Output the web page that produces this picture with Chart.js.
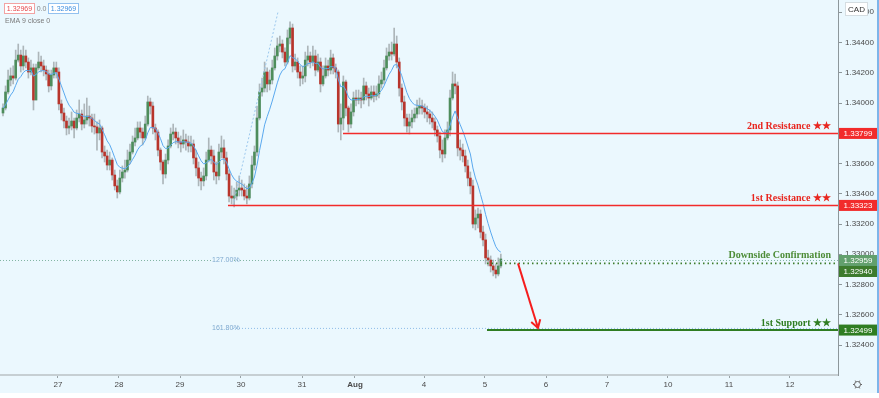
<!DOCTYPE html>
<html>
<head>
<meta charset="utf-8">
<script src="https://cdn.jsdelivr.net/npm/chart.js@4.4.0/dist/chart.umd.min.js"></script>
<style>
  html, body { margin: 0; padding: 0; background: #fff; }
  #wrap { position: relative; width: 879px; height: 393px; }
</style>
</head>
<body>
<div id="wrap"><canvas id="chart"></canvas></div>
<script>
// ===== Data (USD/CAD, 1h candles) =====
var firstOpen = 1.33934;
var closes = [
  1.33967,1.34073,1.34152,1.34179,1.34165,1.34284,1.34317,1.34245,1.34311,1.34271,
  1.34205,1.34232,1.34020,1.34232,1.34271,1.34245,1.34218,1.34192,1.34113,1.34185,
  1.34232,1.34205,1.33994,1.33934,1.33881,1.33835,1.33848,1.33881,1.33835,1.33901,
  1.33927,1.33861,1.33888,1.33914,1.33901,1.33848,1.33842,1.33802,1.33835,1.33676,
  1.33650,1.33590,1.33623,1.33524,1.33452,1.33412,1.33504,1.33544,1.33557,1.33623,
  1.33676,1.33742,1.33769,1.33835,1.33808,1.33769,1.33861,1.34007,1.33980,1.33835,
  1.33808,1.33689,1.33610,1.33531,1.33623,1.33716,1.33795,1.33808,1.33769,1.33742,
  1.33729,1.33756,1.33742,1.33716,1.33729,1.33637,1.33571,1.33504,1.33485,1.33518,
  1.33623,1.33689,1.33650,1.33544,1.33518,1.33676,1.33703,1.33637,1.33531,1.33385,
  1.33372,1.33385,1.33425,1.33438,1.33425,1.33385,1.33372,1.33465,1.33590,1.33676,
  1.33901,1.34073,1.34099,1.34205,1.34126,1.34152,1.34232,1.34311,1.34377,1.34390,
  1.34337,1.34271,1.34430,1.34496,1.34245,1.34271,1.34205,1.34165,1.34179,1.34284,
  1.34311,1.34271,1.34311,1.34218,1.34271,1.34126,1.34179,1.34245,1.34218,1.34298,
  1.34232,1.34205,1.33861,1.33901,1.34139,1.33967,1.33861,1.33941,1.34033,1.34020,
  1.34033,1.34020,1.34113,1.34060,1.34033,1.34073,1.34046,1.34060,1.34126,1.34152,
  1.34232,1.34311,1.34337,1.34324,1.34390,1.34271,1.34099,1.34007,1.33901,1.33848,
  1.33875,1.33901,1.33927,1.33967,1.33980,1.33967,1.33941,1.33927,1.33901,1.33875,
  1.33822,1.33782,1.33689,1.33663,1.33769,1.33822,1.34033,1.34126,1.34113,1.33703,
  1.33689,1.33650,1.33584,1.33504,1.33452,1.33200,1.33240,1.33266,1.33147,1.33095,
  1.32976,1.32962,1.32923,1.32896,1.32870,1.32923,1.32969
];
var highs = [
  1.33994,1.34113,1.34218,1.34232,1.34245,1.34350,1.34390,1.34350,1.34377,1.34350,
  1.34298,1.34284,1.34258,1.34258,1.34337,1.34311,1.34284,1.34245,1.34218,1.34218,
  1.34271,1.34271,1.34232,1.34020,1.33967,1.33914,1.33901,1.33941,1.33901,1.33954,
  1.34020,1.33954,1.33994,1.34033,1.33980,1.33927,1.33927,1.33875,1.33888,1.33848,
  1.33716,1.33689,1.33676,1.33637,1.33557,1.33491,1.33557,1.33584,1.33623,1.33689,
  1.33729,1.33782,1.33835,1.33875,1.33875,1.33835,1.33914,1.34046,1.34033,1.34007,
  1.33861,1.33822,1.33703,1.33623,1.33663,1.33756,1.33835,1.33861,1.33835,1.33808,
  1.33782,1.33822,1.33795,1.33782,1.33782,1.33756,1.33689,1.33610,1.33544,1.33571,
  1.33676,1.33769,1.33716,1.33689,1.33610,1.33729,1.33782,1.33756,1.33676,1.33557,
  1.33452,1.33438,1.33478,1.33518,1.33491,1.33465,1.33452,1.33518,1.33650,1.33716,
  1.33980,1.34126,1.34165,1.34271,1.34232,1.34218,1.34284,1.34364,1.34430,1.34443,
  1.34417,1.34364,1.34483,1.34536,1.34522,1.34324,1.34298,1.34245,1.34245,1.34337,
  1.34377,1.34337,1.34377,1.34350,1.34324,1.34298,1.34245,1.34298,1.34284,1.34350,
  1.34324,1.34258,1.34218,1.33994,1.34179,1.34152,1.33980,1.33994,1.34073,1.34086,
  1.34086,1.34073,1.34165,1.34139,1.34099,1.34113,1.34113,1.34113,1.34179,1.34205,
  1.34284,1.34364,1.34390,1.34403,1.34496,1.34443,1.34298,1.34126,1.34046,1.33927,
  1.33927,1.33954,1.33967,1.34020,1.34033,1.34020,1.33994,1.33980,1.33954,1.33941,
  1.33901,1.33848,1.33808,1.33756,1.33822,1.33875,1.34086,1.34205,1.34192,1.34139,
  1.33756,1.33729,1.33689,1.33623,1.33544,1.33491,1.33293,1.33306,1.33293,1.33187,
  1.33134,1.33028,1.32989,1.32962,1.32936,1.32976,1.33002
];
var lows = [
  1.33914,1.33954,1.34060,1.34113,1.34126,1.34152,1.34271,1.34205,1.34218,1.34232,
  1.34165,1.34185,1.33954,1.34020,1.34218,1.34205,1.34179,1.34152,1.34073,1.34086,
  1.34165,1.34165,1.33954,1.33888,1.33835,1.33789,1.33795,1.33822,1.33769,1.33822,
  1.33875,1.33822,1.33835,1.33861,1.33848,1.33808,1.33795,1.33689,1.33756,1.33637,
  1.33610,1.33557,1.33557,1.33491,1.33425,1.33372,1.33399,1.33478,1.33504,1.33544,
  1.33597,1.33663,1.33716,1.33756,1.33769,1.33723,1.33756,1.33848,1.33927,1.33795,
  1.33756,1.33650,1.33557,1.33465,1.33504,1.33597,1.33703,1.33756,1.33729,1.33703,
  1.33676,1.33703,1.33689,1.33676,1.33676,1.33597,1.33518,1.33452,1.33425,1.33452,
  1.33491,1.33610,1.33597,1.33491,1.33465,1.33491,1.33637,1.33597,1.33491,1.33346,
  1.33333,1.33313,1.33359,1.33385,1.33385,1.33359,1.33333,1.33359,1.33438,1.33557,
  1.33650,1.33888,1.34046,1.34073,1.34073,1.34086,1.34126,1.34218,1.34284,1.34337,
  1.34298,1.34245,1.34258,1.34390,1.34205,1.34218,1.34165,1.34113,1.34126,1.34139,
  1.34245,1.34232,1.34245,1.34179,1.34205,1.34073,1.34113,1.34165,1.34179,1.34192,
  1.34192,1.34165,1.33808,1.33756,1.33822,1.33914,1.33808,1.33835,1.33914,1.33980,
  1.33994,1.33967,1.33994,1.34020,1.33980,1.34020,1.34007,1.34020,1.34033,1.34099,
  1.34126,1.34218,1.34284,1.34284,1.34311,1.34232,1.34046,1.33954,1.33848,1.33808,
  1.33795,1.33835,1.33875,1.33901,1.33927,1.33927,1.33901,1.33875,1.33861,1.33835,
  1.33782,1.33742,1.33637,1.33610,1.33637,1.33756,1.33782,1.34020,1.34060,1.33650,
  1.33623,1.33610,1.33544,1.33452,1.33399,1.33174,1.33161,1.33174,1.33108,1.33055,
  1.32936,1.32923,1.32883,1.32857,1.32843,1.32857,1.32910
];
var emaLength = 9;

// axis ticks (x in bar-index units)
var xTickLabels = ['27','28','29','30','31','Aug','4','5','6','7','10','11','12'];
var xTickPos    = [21.65,45.67,69.69,93.70,117.72,138.58,165.75,189.76,213.78,237.80,261.81,285.83,309.84];
var yTicks      = [1.324,1.326,1.328,1.330,1.332,1.334,1.336,1.338,1.340,1.342,1.344,1.346];
var xMin = -1.18, xMax = 328.74;
var yMin = 1.32202, yMax = 1.34681;

// drawn levels
var levelNames  = ['2nd Resistance \u2605\u2605', '1st Resistance \u2605\u2605', 'Downside Confirmation', '1st Support \u2605\u2605'];
var levelValues = [1.33799, 1.33323, 1.32940, 1.32499];
var levelStart  = [133.86, 88.58, 190.55, 190.55];
var fibNames    = ['127.00%', '161.80%'];
var fibValues   = [1.32959, 1.32510];
var fibStart    = [-1.18, 90.55];
var fibTrend    = [{x: 90.55, y: 1.33323}, {x: 108.27, y: 1.34602}];
var arrowPts    = [{x: 202.76, y: 1.32940}, {x: 210.63, y: 1.32513}];
var axisBoxes   = [1.33799, 1.33323, 1.32959, 1.32940, 1.32499];
var lastClose   = '1.32969';

// ===== Colours =====
var BG = '#ebf8fe';
var UP = '#4e8d5c', DOWN = '#b8352c', WICK = '#adb6ba';
var RED = '#f22b2b', GREEN_D = '#2f7d22';
var boxColors = [RED, RED, '#62a06d', '#3d7b2d', GREEN_D];
var levelColors = ['#e8261f', '#e8261f', '#4d8c37', '#2f7d22'];

// ===== Build =====
var opens = closes.map(function(c, i) { return i === 0 ? firstOpen : closes[i - 1]; });
var bodies = closes.map(function(c, i) { return {x: i, y: [opens[i], c]}; });
var wicks  = highs.map(function(h, i) { return {x: i, y: [lows[i], h]}; });
var bodyColors = closes.map(function(c, i) { return c >= opens[i] ? UP : DOWN; });
var k = 2 / (emaLength + 1), ema = [];
closes.forEach(function(c, i) {
  ema.push({x: i, y: i === 0 ? c : c * k + ema[i - 1].y * (1 - k)});
});

function hLine(v, start, color, width, dash) {
  return {
    type: 'line', data: [{x: start, y: v}, {x: xMax, y: v}],
    borderColor: color, borderWidth: width, borderDash: dash || [],
    pointRadius: 0, order: 1
  };
}

var datasets = [
  hLine(levelValues[0], levelStart[0], RED, 1.5),
  hLine(levelValues[1], levelStart[1], RED, 1.5),
  hLine(fibValues[0], fibStart[0], '#82b5a3', 1, [1, 2]),
  hLine(fibValues[1], fibStart[1], '#8dbbe8', 1, [1, 2]),
  hLine(levelValues[2], levelStart[2], '#3e7d2c', 1.6, [1.5, 3]),
  hLine(levelValues[3], levelStart[3], GREEN_D, 2),
  { type: 'line', data: fibTrend, borderColor: '#9cc8ee', borderWidth: 1, borderDash: [2, 2], pointRadius: 0, order: 1 },
  { type: 'line', data: arrowPts, borderColor: '#f51d1d', borderWidth: 2, pointRadius: 0, order: 0 },
  { type: 'line', data: ema, borderColor: '#5aa9ef', borderWidth: 1, pointRadius: 0, tension: 0, order: 2 },
  { type: 'bar', data: bodies, backgroundColor: bodyColors, barThickness: 2, grouped: false, minBarLength: 1, order: 3 },
  { type: 'bar', data: wicks, backgroundColor: WICK, barThickness: 1, grouped: false, order: 4 }
];

var tickFont = { family: "'Liberation Sans', Arial, sans-serif", size: 8 };

var overlay = {
  id: 'overlay',
  beforeDraw: function(chart) {
    var c = chart.ctx;
    c.save();
    c.fillStyle = BG;
    c.fillRect(0, 0, chart.width, chart.height);
    c.restore();
  },
  afterDatasetsDraw: function(chart) {
    var c = chart.ctx, xs = chart.scales.x, ys = chart.scales.y;
    c.save();
    // arrow head
    var x0 = xs.getPixelForValue(arrowPts[0].x), y0 = ys.getPixelForValue(arrowPts[0].y);
    var x1 = xs.getPixelForValue(arrowPts[1].x), y1 = ys.getPixelForValue(arrowPts[1].y);
    var a = Math.atan2(y1 - y0, x1 - x0), L = 9;
    c.strokeStyle = '#f51d1d'; c.lineWidth = 2;
    c.beginPath();
    c.moveTo(x1 - L * Math.cos(a - 0.55), y1 - L * Math.sin(a - 0.55));
    c.lineTo(x1, y1);
    c.lineTo(x1 - L * Math.cos(a + 0.55), y1 - L * Math.sin(a + 0.55));
    c.stroke();
    // level names
    c.font = "bold 10px 'Liberation Serif', 'DejaVu Serif', serif";
    c.textAlign = 'right'; c.textBaseline = 'alphabetic';
    levelValues.forEach(function(v, i) {
      c.fillStyle = levelColors[i];
      c.fillText(levelNames[i], 831, ys.getPixelForValue(v) - (i === 2 ? 5 : 4));
    });
    // fib labels
    c.font = "7px 'Liberation Sans', Arial, sans-serif";
    c.textAlign = 'left'; c.textBaseline = 'middle';
    fibValues.forEach(function(v, i) {
      var y = ys.getPixelForValue(v);
      c.fillStyle = BG; c.fillRect(211, y - 3, 22, 6);
      c.fillStyle = '#7fa9cf';
      c.fillText(fibNames[i], 212, y);
    });
    c.restore();
  },
  afterDraw: function(chart) {
    var c = chart.ctx, ys = chart.scales.y, area = chart.chartArea;
    c.save();
    // price boxes on the right axis
    c.font = "8px 'Liberation Sans', Arial, sans-serif";
    c.textAlign = 'center'; c.textBaseline = 'middle';
    var prev = -100;
    axisBoxes.forEach(function(v, i) {
      var y = ys.getPixelForValue(v);
      if (y - prev < 11) y = prev + 11;
      prev = y;
      c.fillStyle = boxColors[i];
      c.fillRect(area.right + 1, y - 5.5, 38, 11);
      c.fillStyle = '#fff';
      c.fillText(v.toFixed(5), area.right + 20, y + 0.5);
    });
    // currency tag
    c.fillStyle = '#fff'; c.strokeStyle = '#d5dde1'; c.lineWidth = 1;
    c.fillRect(845.5, 2.5, 22, 13); c.strokeRect(845.5, 2.5, 22, 13);
    c.fillStyle = '#333'; c.fillText('CAD', 856.5, 9.5);
    // legend top left
    c.font = "7px 'Liberation Sans', Arial, sans-serif";
    c.fillStyle = '#fff'; c.strokeStyle = '#f2a3a3';
    c.fillRect(4.5, 3.5, 30, 10); c.strokeRect(4.5, 3.5, 30, 10);
    c.fillStyle = '#e5484d'; c.fillText(lastClose, 19.5, 8.8);
    c.fillStyle = '#888'; c.fillText('0.0', 41.5, 8.8);
    c.fillStyle = '#fff'; c.strokeStyle = '#93c1ef';
    c.fillRect(48.5, 3.5, 30, 10); c.strokeRect(48.5, 3.5, 30, 10);
    c.fillStyle = '#3d8fe0'; c.fillText(lastClose, 63.5, 8.8);
    c.textAlign = 'left'; c.fillStyle = '#7a7a7a';
    c.fillText('EMA 9 close 0', 5, 21);
    // settings gear
    c.strokeStyle = '#666'; c.lineWidth = 1;
    c.beginPath(); c.arc(857.5, 384.5, 3, 0, Math.PI * 2); c.stroke();
    for (var t = 0; t < 6; t++) {
      var ang = t * Math.PI / 3;
      c.beginPath();
      c.moveTo(857.5 + 3 * Math.cos(ang), 384.5 + 3 * Math.sin(ang));
      c.lineTo(857.5 + 4.5 * Math.cos(ang), 384.5 + 4.5 * Math.sin(ang));
      c.stroke();
    }
    // right frame edge
    c.strokeStyle = '#7db5ea'; c.lineWidth = 2;
    c.beginPath(); c.moveTo(878, 0); c.lineTo(878, chart.height); c.stroke();
    c.restore();
  }
};

new Chart(document.getElementById('chart'), {
  type: 'bar',
  data: { datasets: datasets },
  options: {
    responsive: true,
    maintainAspectRatio: false,
    animation: false,
    layout: { padding: 0 },
    plugins: { legend: { display: false }, tooltip: { enabled: false } },
    scales: {
      x: {
        type: 'linear', position: 'bottom', min: xMin, max: xMax, offset: false,
        grid: { drawOnChartArea: false, drawTicks: true, tickLength: 3, color: '#98a2a6', offset: false },
        border: { display: true, color: '#c6cfd3', width: 2 },
        afterBuildTicks: function(s) { s.ticks = xTickPos.map(function(v) { return {value: v}; }); },
        afterFit: function(s) { s.height = 18; s.paddingLeft = 0; s.paddingRight = 0; },
        ticks: {
          autoSkip: false, maxRotation: 0, padding: 2, color: '#4a4a4a',
          font: function(ctx) {
            return { family: tickFont.family, size: 8, weight: ctx.index === 5 ? 'bold' : 'normal' };
          },
          callback: function(v, i) { return xTickLabels[i]; }
        }
      },
      y: {
        type: 'linear', position: 'right', min: yMin, max: yMax,
        grid: { drawOnChartArea: false, drawTicks: true, tickLength: 4, color: '#8d979b' },
        border: { display: true, color: '#8d979b', width: 1 },
        afterBuildTicks: function(s) { s.ticks = yTicks.map(function(v) { return {value: v}; }); },
        afterFit: function(s) { s.width = 41; s.paddingTop = 0; s.paddingBottom = 0; },
        ticks: {
          padding: 3, color: '#4a4a4a', font: tickFont,
          callback: function(v) { return v.toFixed(5); }
        }
      }
    }
  },
  plugins: [overlay]
});
</script>
</body>
</html>
